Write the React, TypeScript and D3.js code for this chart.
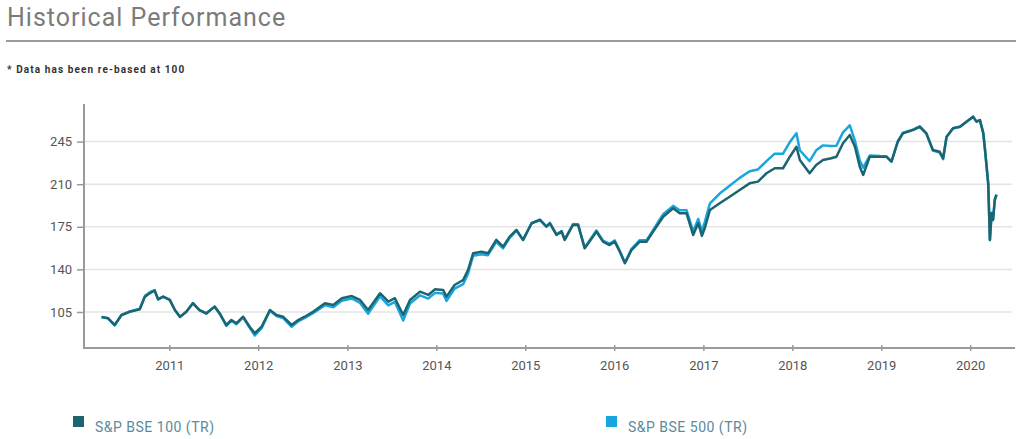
import React, { useRef, useEffect } from "react";
import * as d3 from "d3";

// dates shared by both series
const dates = [
  "2010-03-29", "2010-04-25", "2010-05-22", "2010-06-19", "2010-07-23", "2010-09-02", "2010-09-23", "2010-10-13",
  "2010-11-02", "2010-11-16", "2010-12-07", "2011-01-03", "2011-01-24", "2011-02-14", "2011-03-12", "2011-04-08",
  "2011-05-05", "2011-06-02", "2011-07-06", "2011-07-27", "2011-08-23", "2011-09-13", "2011-10-03", "2011-10-31",
  "2011-11-27", "2011-12-18", "2012-01-15", "2012-02-18", "2012-03-16", "2012-04-12", "2012-05-17", "2012-06-13",
  "2012-07-10", "2012-08-13", "2012-10-01", "2012-11-04", "2012-12-09", "2013-01-19", "2013-02-22", "2013-03-27",
  "2013-05-15", "2013-06-18", "2013-07-15", "2013-08-18", "2013-09-15", "2013-10-26", "2013-11-29", "2013-12-27",
  "2014-01-29", "2014-02-12", "2014-03-17", "2014-04-21", "2014-05-11", "2014-06-01", "2014-07-05", "2014-08-01",
  "2014-09-04", "2014-10-02", "2014-10-29", "2014-11-26", "2014-12-23", "2015-01-27", "2015-03-02", "2015-03-29",
  "2015-04-12", "2015-05-09", "2015-05-30", "2015-06-12", "2015-07-16", "2015-08-06", "2015-09-02", "2015-10-20",
  "2015-11-16", "2015-12-13", "2016-01-03", "2016-01-24", "2016-02-14", "2016-03-12", "2016-04-15", "2016-05-13",
  "2016-06-09", "2016-07-20", "2016-08-30", "2016-09-26", "2016-10-24", "2016-11-20", "2016-12-11", "2016-12-26",
  "2017-01-07", "2017-01-28", "2017-03-09", "2017-04-19", "2017-05-30", "2017-07-10", "2017-08-13", "2017-09-17",
  "2017-10-21", "2017-11-24", "2017-12-22", "2018-01-18", "2018-02-01", "2018-03-13", "2018-04-09", "2018-05-07",
  "2018-06-10", "2018-07-01", "2018-07-28", "2018-08-25", "2018-09-15", "2018-10-05", "2018-10-19", "2018-11-15",
  "2018-12-26", "2019-01-22", "2019-02-12", "2019-03-10", "2019-03-31", "2019-05-11", "2019-06-08", "2019-07-05",
  "2019-08-01", "2019-08-29", "2019-09-12", "2019-09-26", "2019-10-23", "2019-11-20", "2019-12-17", "2020-01-13",
  "2020-01-27", "2020-02-10", "2020-02-24", "2020-03-02", "2020-03-15", "2020-03-22", "2020-03-29", "2020-04-04",
  "2020-04-11", "2020-04-18",
];

const bse100 = [
  100.8, 99.8, 94.3, 102.5, 105.2, 107.2, 117.6, 120.4,
  122.5, 115.4, 117.6, 114.9, 106.6, 101.1, 105.2, 112.1,
  106.6, 103.9, 109.4, 103.9, 94.3, 98.4, 95.7, 101.1,
  92.9, 87.5, 92.9, 106.6, 102.5, 101.1, 94.3, 98.4,
  101.1, 105.2, 112.1, 110.8, 116.3, 118.1, 114.9, 106.6,
  120.4, 113.5, 116.3, 102.5, 114.9, 121.7, 119.0, 123.7,
  123.1, 117.6, 127.2, 131.3, 139.5, 153.2, 154.5, 153.2,
  164.2, 158.7, 166.9, 172.4, 164.2, 177.9, 180.6, 175.1,
  177.9, 168.3, 171.0, 164.2, 176.5, 176.5, 157.3, 171.0,
  162.8, 160.0, 162.8, 154.5, 145.0, 155.9, 162.8, 162.8,
  171.0, 183.3, 190.2, 186.1, 186.1, 168.3, 177.9, 167.5,
  174.0, 188.8, 194.3, 199.7, 205.2, 210.7, 212.1, 219.0,
  223.1, 223.1, 232.6, 240.8, 229.9, 219.0, 225.8, 229.9,
  231.3, 232.6, 243.6, 250.4, 240.8, 224.4, 217.6, 232.6,
  232.6, 232.6, 228.5, 244.9, 251.8, 254.5, 257.2, 251.8,
  238.1, 236.7, 231.3, 249.0, 255.9, 257.2, 261.4, 265.5,
  261.4, 262.7, 251.8, 238.1, 210.7, 164.2, 186.1, 180.6,
  197.0, 201.1,
];

const bse500 = [
  100.8, 99.8, 94.0, 102.5, 105.5, 107.7, 118.1, 121.2,
  123.0, 115.4, 117.6, 114.9, 106.6, 100.8, 105.2, 112.4,
  106.6, 103.6, 109.4, 103.4, 93.5, 97.9, 94.9, 100.6,
  91.9, 85.7, 91.7, 106.1, 101.7, 100.1, 92.8, 97.2,
  100.1, 104.0, 110.6, 108.8, 114.3, 116.1, 112.4, 103.6,
  117.9, 110.5, 113.3, 98.0, 111.9, 118.7, 116.0, 120.7,
  120.1, 114.1, 124.2, 127.8, 136.5, 151.2, 152.5, 151.7,
  162.7, 157.2, 165.9, 171.9, 164.2, 177.9, 180.9, 175.1,
  178.2, 168.8, 171.5, 164.7, 177.3, 177.0, 157.8, 172.0,
  163.6, 161.0, 163.8, 155.3, 145.5, 156.9, 164.0, 164.0,
  172.5, 185.3, 192.2, 188.6, 188.6, 171.3, 181.4, 171.5,
  179.0, 194.3, 202.3, 208.7, 215.2, 220.7, 222.1, 229.0,
  235.1, 235.1, 244.6, 251.8, 237.9, 229.0, 237.8, 241.9,
  241.3, 241.6, 252.6, 258.4, 245.8, 229.4, 223.6, 233.6,
  233.1, 232.9, 228.5, 245.2, 252.3, 254.8, 257.5, 251.8,
  237.6, 235.9, 230.5, 248.7, 255.9, 257.2, 261.4, 265.5,
  261.4, 262.7, 251.8, 238.1, 210.7, 164.2, 186.6, 181.1,
  197.5, 201.6,
];

const yTicks = [105, 140, 175, 210, 245];
const xTickYears = [2011, 2012, 2013, 2014, 2015, 2016, 2017, 2018, 2019, 2020];

const seriesNames = ["S&P BSE 100 (TR)", "S&P BSE 500 (TR)"];
const seriesColors = ["#1c6570", "#19a6df"];

export default function App() {
  const svgRef = useRef<SVGSVGElement>(null);

  useEffect(() => {
    if (!svgRef.current) return;
    const svg = d3.select(svgRef.current);
    svg.selectAll("*").remove();

    const font = "Roboto, 'Open Sans', sans-serif";
    const left = 84;
    const right = 1015;
    const top = 104;
    const bottom = 348;

    const parse = d3.timeParse("%Y-%m-%d");
    const x = d3.scaleTime()
      .domain([new Date(2010, 0, 16), new Date(2020, 6, 3)])
      .range([left, right]);
    const y = d3.scaleLinear().domain([75.4, 275.9]).range([bottom, top]);

    // title
    svg.append("text")
      .attr("x", 7)
      .attr("y", 26)
      .attr("font-family", font)
      .attr("font-size", 25)
      .attr("letter-spacing", 1)
      .attr("fill", "#7b7b7b")
      .text("Historical Performance");

    svg.append("line")
      .attr("x1", 6).attr("x2", 1016)
      .attr("y1", 41).attr("y2", 41)
      .attr("stroke", "#9a9a9a")
      .attr("stroke-width", 2);

    svg.append("text")
      .attr("x", 7)
      .attr("y", 73)
      .attr("font-family", font)
      .attr("font-size", 10)
      .attr("letter-spacing", 1.1)
      .attr("font-weight", "bold")
      .attr("fill", "#333")
      .text("* Data has been re-based at 100");

    // gridlines
    svg.append("g")
      .selectAll("line")
      .data(yTicks)
      .enter()
      .append("line")
      .attr("x1", left)
      .attr("x2", 1012)
      .attr("y1", d => y(d))
      .attr("y2", d => y(d))
      .attr("stroke", "#e4e4e4")
      .attr("stroke-width", 1.5);

    // y axis
    const yAxis = svg.append("g").attr("transform", `translate(${left},0)`)
      .call(d3.axisLeft(y).tickValues(yTicks).tickSize(7).tickPadding(5) as any);
    yAxis.select(".domain").remove();
    yAxis.selectAll(".tick line").attr("stroke", "#9a9a9a").attr("stroke-width", 1.5);
    yAxis.selectAll("text")
      .attr("font-family", font)
      .attr("font-size", 13)
      .attr("fill", "#555");

    // x axis
    const xAxis = svg.append("g").attr("transform", `translate(0,${bottom})`)
      .call(d3.axisBottom(x)
        .tickValues(xTickYears.map(yr => new Date(yr, 0, 1)))
        .tickFormat(d3.timeFormat("%Y") as any)
        .tickSize(3)
        .tickPadding(10) as any);
    xAxis.select(".domain").remove();
    xAxis.selectAll(".tick line").attr("stroke", "#9a9a9a").attr("stroke-width", 1.5).attr("y1", -3);
    xAxis.selectAll("text")
      .attr("font-family", font)
      .attr("font-size", 13)
      .attr("fill", "#555");

    // axis lines
    svg.append("path")
      .attr("d", `M${left},${top}V${bottom}H${right}`)
      .attr("fill", "none")
      .attr("stroke", "#9a9a9a")
      .attr("stroke-width", 2);

    // series lines, BSE 500 underneath
    const line = d3.line<number>()
      .x((d, i) => x(parse(dates[i]) as Date))
      .y(d => y(d));

    [bse500, bse100].forEach((vals, k) => {
      svg.append("path")
        .datum(vals)
        .attr("d", line)
        .attr("fill", "none")
        .attr("stroke", k === 0 ? seriesColors[1] : seriesColors[0])
        .attr("stroke-width", 2.5)
        .attr("stroke-linejoin", "round");
    });

    // legend
    const legendX = [73, 606];
    seriesNames.forEach((name, i) => {
      const g = svg.append("g").attr("transform", `translate(${legendX[i]},416)`);
      g.append("rect")
        .attr("width", 11)
        .attr("height", 11)
        .attr("fill", seriesColors[i]);
      g.append("text")
        .attr("x", 22)
        .attr("y", 16)
        .attr("font-family", font)
        .attr("font-size", 14)
        .attr("letter-spacing", 0.5)
        .attr("fill", "#5b8a9c")
        .text(name);
    });
  }, []);

  return (
    <svg
      ref={svgRef}
      width={1024}
      height={439}
      style={{ position: "absolute", left: 0, top: 0, background: "#fff" }}
    />
  );
}
